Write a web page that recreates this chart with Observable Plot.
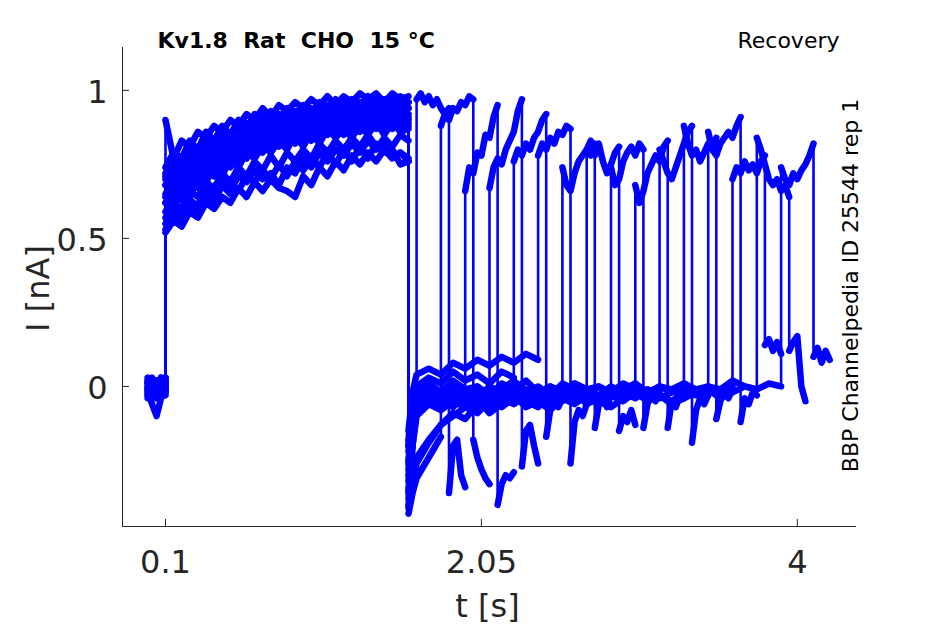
<!DOCTYPE html>
<html>
<head>
<meta charset="utf-8">
<script src="https://cdn.jsdelivr.net/npm/d3@7"></script>
<script src="https://cdn.jsdelivr.net/npm/@observablehq/plot@0.6"></script>
<style>
  html, body { margin: 0; padding: 0; background: #ffffff; }
  #chart svg { display: block; }
</style>
</head>
<body>
<div id="chart"></div>
<script>
// ---- protocol (seconds) ----
const protocolTimes = [-0.01, 0.1, 1.6];          // trace start, prepulse on, prepulse off
const testStarts = [1.65, 1.8, 1.95, 2.1, 2.25, 2.4, 2.55, 2.7, 2.85, 3.0, 3.15, 3.3, 3.45, 3.6, 3.75, 3.9];
const testDuration = 0.2;
const tailDuration = 0.1;

// ---- currents, hundredths of nA, one row per sweep ----
const baseline = [
  [1, -2, 2, -1, 1], [-1, 2, -2, 1, 3], [2, -1, 1, -3, 0], [-3, 1, -2, 2, -1],
  [0, 3, -1, 1, 2], [-2, 0, -4, -1, 1], [1, -3, 0, 2, -2], [-4, -1, 1, -2, 0],
  [2, 1, -2, 3, 1], [-1, -4, 2, 0, -3], [3, 0, -1, -2, 2], [-2, -6, -10, -4, -1],
  [0, 2, -3, 1, -1], [-3, -1, 2, -2, 3], [1, -2, -1, 3, 0], [-1, 1, -3, 0, -2]
];
const prepulse = [
  [90, 77, 83, 81, 86, 84, 88, 86, 90, 88, 92, 90, 94, 91, 95, 93, 96, 94, 97, 95, 98, 95, 98, 96, 99, 97, 99, 96, 99, 97, 98],
  [74, 79, 77, 83, 80, 86, 83, 88, 85, 90, 87, 92, 89, 93, 90, 94, 92, 95, 92, 96, 93, 97, 94, 97, 95, 98, 95, 97, 95, 98, 96],
  [72, 77, 74, 80, 78, 84, 81, 86, 83, 85, 89, 86, 91, 88, 92, 89, 93, 90, 94, 91, 95, 92, 96, 93, 96, 93, 97, 94, 97, 94, 96],
  [70, 75, 72, 79, 76, 83, 79, 84, 81, 87, 84, 89, 85, 90, 87, 92, 88, 93, 89, 94, 90, 95, 91, 95, 92, 96, 92, 96, 93, 97, 94],
  [68, 73, 71, 77, 75, 81, 78, 83, 80, 86, 83, 88, 85, 89, 87, 91, 88, 92, 89, 93, 90, 94, 91, 95, 92, 95, 92, 96, 93, 96, 94],
  [71, 68, 74, 72, 79, 76, 82, 79, 84, 82, 86, 84, 88, 85, 90, 86, 91, 88, 92, 89, 93, 90, 93, 91, 94, 91, 95, 92, 95, 93, 94],
  [65, 70, 69, 75, 72, 78, 75, 81, 78, 83, 80, 85, 82, 87, 84, 89, 86, 90, 87, 91, 88, 92, 89, 93, 89, 93, 90, 94, 91, 94, 92],
  [68, 65, 71, 70, 76, 73, 79, 77, 82, 79, 84, 81, 86, 83, 88, 85, 89, 86, 90, 87, 91, 88, 92, 88, 92, 89, 93, 90, 93, 90, 91],
  [62, 67, 66, 72, 70, 76, 73, 79, 75, 81, 78, 83, 80, 85, 82, 87, 84, 88, 85, 89, 86, 90, 87, 91, 88, 91, 88, 92, 89, 92, 90],
  [64, 62, 68, 66, 72, 70, 76, 73, 79, 76, 81, 79, 83, 80, 85, 82, 86, 83, 87, 85, 88, 86, 89, 86, 90, 87, 90, 88, 91, 88, 89],
  [59, 64, 63, 69, 67, 74, 71, 76, 74, 79, 77, 82, 79, 84, 81, 85, 82, 86, 83, 88, 85, 88, 85, 89, 86, 90, 87, 90, 87, 91, 88],
  [62, 60, 66, 64, 70, 69, 74, 71, 77, 74, 79, 77, 81, 79, 83, 80, 85, 81, 86, 82, 87, 84, 87, 84, 88, 85, 89, 85, 89, 86, 87],
  [57, 62, 60, 66, 64, 69, 67, 72, 69, 74, 71, 76, 73, 78, 74, 79, 76, 80, 77, 82, 79, 83, 80, 84, 81, 85, 81, 82, 78, 79, 77],
  [55, 60, 58, 63, 61, 67, 64, 69, 66, 71, 69, 73, 70, 72, 68, 74, 72, 77, 74, 79, 76, 80, 78, 82, 79, 83, 80, 84, 81, 85, 83],
  [53, 58, 56, 62, 59, 65, 62, 68, 65, 66, 71, 69, 73, 70, 75, 71, 76, 73, 77, 74, 79, 75, 80, 76, 81, 77, 82, 79, 80, 75, 76],
  [52, 56, 54, 59, 57, 62, 60, 64, 62, 67, 64, 69, 66, 70, 67, 66, 64, 71, 68, 74, 71, 76, 73, 78, 75, 79, 76, 80, 77, 79, 76]
];
const recovery = [
  [-36, -20, -8],
  [-43, -36, -31, -24, -17],
  [-28, -12, -5, -2, -6, -1, -4],
  [-40, -30, -24, -18, -13, -9, -11, -6, -8],
  [-20, -6, 0, 3, 1, 5, 2, 4, 1, 5, 3],
  [-15, -2, 4, 6, 4, 8, 6, 9, 7, 10, 8, 11, 9],
  [-41, -33, -26, -19, -13, -10, -7, -9, -5, -7, -4, -6, -3, -5, -4],
  [-25, -10, -5, -3, -6, -2, -5, -1, -4, -6, -2, -5, -3, -1, -4, -2, -3],
  [-32, -15, -7, -4, -7, -3, -6, -8, -4, -6, -2, -5, -7, -3, -5, -2, -4, -6, -3],
  [-18, -5, -1, 1, -2, 2, -1, 0, -3, 1, -1, 2, -2, 0, -2, 1, -1, -3, 0, -2, 1],
  [-35, -18, -9, -6, -4, -7, -3, -5, -8, -4, -6, -3, -5, -7, -4, -2, -6, -4, -3, -5, -2, -4, -3],
  [-22, -8, -4, -2, -5, -1, -3, -6, -2, -4, 0, -3, -5, -2, -4, -1, -3, -5, -2, 0, -3, -1, -4, -2, -1],
  [-38, -20, -10, -6, -8, -5, -7, -4, -9, -6, -3, -7, -5, -8, -4, -6, -3, -5, -7, -4, -2, -5, -3, -6, -4, -2, -3],
  [-26, -10, -4, -1, -3, 1, -2, 0, -4, -1, 2, -2, 0, -3, 1, -1, -3, 0, -2, 1, -1, -3, 0, -2, 1, -1, 0, -2, 0],
  [-30, -14, -6, -3, -6, -2, -5, -3, -7, -4, -2, -5, -3, -6, -2, -4, -1, -5, -3, -2, -4, -1, -3, -5, -2, -3, -1, -4, -2, 0, -1],
  [-20, -6, -2, 0, -3, 1, -1, -4, 0, -2, 1, -1, -3, 0, -2, 1, -1, 0, -3, -1, 1, -2, 0, -1, 1, -2, 0, -1, 2, 0, -1, 1, 0]
];
const testPulse = [
  [97, 99, 96, 98, 95, 97, 94, 92, 94],
  [88, 92, 90, 94, 93, 96, 95, 98, 97],
  [66, 74, 72, 79, 78, 85, 84, 91, 95],
  [67, 74, 77, 75, 80, 83, 86, 93, 97],
  [76, 80, 78, 82, 80, 84, 86, 90, 92],
  [78, 82, 80, 84, 82, 86, 85, 88, 87],
  [74, 68, 66, 72, 76, 78, 80, 78, 82],
  [80, 83, 78, 82, 76, 72, 75, 79, 81],
  [74, 68, 70, 76, 79, 81, 78, 82, 80],
  [68, 62, 66, 72, 75, 78, 76, 81, 83],
  [80, 76, 72, 70, 74, 78, 82, 86, 88],
  [88, 82, 78, 80, 76, 79, 82, 80, 84],
  [86, 80, 78, 82, 84, 86, 84, 88, 91],
  [70, 74, 72, 76, 73, 75, 72, 76, 78],
  [84, 80, 75, 70, 68, 70, 66, 68, 64],
  [74, 70, 68, 72, 70, 73, 75, 78, 82]
];
const tail = [
  [-36, -20, -18, -30, -34], [-18, -24, -28, -31, -33], [-40, -33, -30, -31, -29], [-27, -15, -13, -20, -26],
  [-17, -8, -5, -7, -4], [-26, -12, -8, -10, -6], [-14, -6, -4, -7, -3], [-15, -10, -12, -8, -13],
  [-14, -6, -3, -5, -2], [-14, -5, -7, -3, -4], [-19, -8, -4, -6, -3], [-11, -5, -2, -4, -1],
  [-12, -4, -6, -2, -3], [14, 16, 12, 15, 11], [12, 15, 17, 0, -5], [10, 13, 8, 12, 9]
];

// ---- axes ----
const xTicks = [0.1, 2.05, 4];
const xTickLabels = ["0.1", "2.05", "4"];
const yTicks = [0, 0.5, 1];
const yTickLabels = ["0", "0.5", "1"];
const xDomain = [-0.1654, 4.3654];
const yDomain = [-0.4731, 1.1448];

// ---- build the table of samples (segment: 0 baseline, 1 prepulse, 2 recovery, 3 test, 4 tail) ----
const points = [];
function spread(t0, t1, vals, sweep, seg) {
  const n = vals.length;
  vals.forEach((v, i) => points.push({sweep, seg: sweep * 10 + seg, t: t0 + (t1 - t0) * i / (n - 1), i: v / 100}));
}
testStarts.forEach((ts, k) => {
  spread(protocolTimes[0], protocolTimes[1], baseline[k], k, 0);
  spread(protocolTimes[1], protocolTimes[2], prepulse[k], k, 1);
  const r = recovery[k], n = r.length, L = ts - protocolTimes[2];
  r.forEach((v, i) => {
    const off = i <= 2 ? 0.025 * i : 0.05 + (L - 0.05) * (i - 2) / (n - 3);
    points.push({sweep: k, seg: k * 10 + 2, t: protocolTimes[2] + off, i: v / 100});
  });
  spread(ts, ts + testDuration, testPulse[k], k, 3);
  spread(ts + testDuration, ts + testDuration + tailDuration, tail[k], k, 4);
});

const W = 945, H = 624, mL = 122, mR = 89, mT = 47, mB = 98;
const pxX = (xDomain[1] - xDomain[0]) / (W - mL - mR);
const pxY = (yDomain[1] - yDomain[0]) / (H - mT - mB);
const axisColor = "#262626";
const traceColor = "#0000ff";

const chart = Plot.plot({
  width: W, height: H,
  marginLeft: mL, marginRight: mR, marginTop: mT, marginBottom: mB,
  x: {domain: xDomain},
  y: {domain: yDomain},
  style: {fontFamily: "DejaVu Sans", background: "#ffffff", color: axisColor},
  marks: [
    // noisy plateaus (thick), then the full sweeps including the jumps (thin)
    Plot.line(points, {x: "t", y: "i", z: "seg", stroke: traceColor, strokeWidth: 6.5, strokeLinejoin: "round", strokeLinecap: "round"}),
    Plot.line(points, {x: "t", y: "i", z: "sweep", stroke: traceColor, strokeWidth: 2.6, strokeLinejoin: "round", strokeLinecap: "butt"}),
    // spines
    Plot.ruleX([xDomain[0]], {y1: yDomain[0], y2: yDomain[1], stroke: axisColor, strokeWidth: 1}),
    Plot.ruleY([yDomain[0]], {x1: xDomain[0], x2: xDomain[1], stroke: axisColor, strokeWidth: 1}),
    // inward ticks
    Plot.ruleX(xTicks, {y1: yDomain[0], y2: yDomain[0] + 7 * pxY, stroke: axisColor, strokeWidth: 1}),
    Plot.ruleY(yTicks, {x1: xDomain[0], x2: xDomain[0] + 7 * pxX, stroke: axisColor, strokeWidth: 1}),
    Plot.axisX(xTicks, {tickSize: 0, tickPadding: 24, fontSize: 32, fill: axisColor, label: null,
      tickFormat: d => xTickLabels[xTicks.indexOf(d)]}),
    Plot.axisY(yTicks, {tickSize: 0, tickPadding: 15, dy: 2, fontSize: 32, fill: axisColor, label: null,
      tickFormat: d => yTickLabels[yTicks.indexOf(d)]}),
    // axis titles
    Plot.text(["t [s]"], {text: d => d, frameAnchor: "bottom", textAnchor: "middle", lineAnchor: "bottom",
      dx: -2, dy: 90.7, fontSize: 32, fill: axisColor}),
    Plot.text(["I [nA]"], {text: d => d, frameAnchor: "left", rotate: -90, textAnchor: "middle", lineAnchor: "middle",
      dx: -84, dy: 1.5, fontSize: 32, fill: axisColor}),
    // titles
    Plot.text(["Kv1.8  Rat  CHO  15 °C"], {text: d => d, frameAnchor: "top-left", textAnchor: "start", lineAnchor: "bottom",
      dx: 35, dy: 0.5, fontSize: 22, fontWeight: "bold", fill: "#000000"}),
    Plot.text(["Recovery"], {text: d => d, frameAnchor: "top-right", textAnchor: "end", lineAnchor: "bottom",
      dx: -17, dy: 0, fontSize: 22, fill: "#000000"}),
    Plot.text(["BBP Channelpedia ID 25544 rep 1"], {text: d => d, frameAnchor: "right", rotate: -90,
      textAnchor: "middle", lineAnchor: "middle", dx: -6, dy: -1.5, fontSize: 22, fill: "#000000"})
  ]
});
document.getElementById("chart").appendChild(chart);
</script>
</body>
</html>
